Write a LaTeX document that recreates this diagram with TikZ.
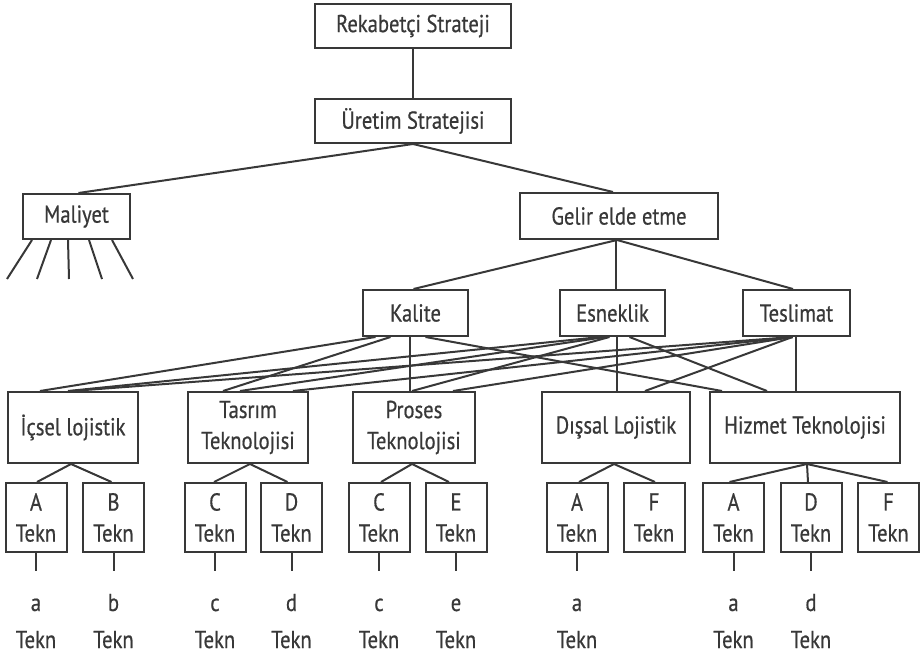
\documentclass[tikz,border=0pt]{standalone}
\usepackage{fontspec}
\setmainfont{PT Sans}[FakeStretch=0.84,FakeBold=0.6]
\usetikzlibrary{calc}
\definecolor{ink}{HTML}{383838}
\tikzset{
  box/.style={draw=ink, line width=2pt, inner sep=0pt, align=center,
    text=ink, font=\fontsize{24.5}{31}\selectfont},
  leaf/.style={box, minimum width=61, minimum height=69},
  mid/.style={box, minimum height=71},
  lbl/.style={inner sep=0pt, text=ink, font=\fontsize{24.5}{31}\selectfont},
  ln/.style={draw=ink, line width=2pt},
}
\begin{document}
\begin{tikzpicture}[x=1pt,y=-1pt]
\useasboundingbox (0,0) rectangle (921,655);
% level 0-2
\node[box, minimum width=196, minimum height=44] (rek) at (413,26) {Rekabetçi Strateji};
\node[box, minimum width=196, minimum height=44] (ure) at (413,121) {Üretim Stratejisi};
\node[box, minimum width=107, minimum height=45] (mal) at (76.5,216.5) {Maliyet};
\node[box, minimum width=198, minimum height=46] (gel) at (619,216) {Gelir elde etme};
% level 3
\node[box, minimum width=105, minimum height=46] (kal) at (415.5,313) {Kalite};
\node[box, minimum width=105, minimum height=46] (esn) at (612.5,313) {Esneklik};
\node[box, minimum width=107, minimum height=46] (tes) at (796.5,313) {Teslimat};
% level 4
\node[mid, minimum width=130] (ics) at (73,427.5) {İçsel lojistik};
\node[mid, minimum width=120] (tas) at (248,427.5) {Tasrım\\Teknolojisi};
\node[mid, minimum width=122] (pro) at (414,427.5) {Proses\\Teknolojisi};
\node[mid, minimum width=148] (dis) at (616,427.5) {Dışsal Lojistik};
\node[mid, minimum width=190] (hiz) at (805,427.5) {Hizmet Teknolojisi};
% leaves
\node[leaf] (a1) at (36,517.5) {A\\Tekn};
\node[leaf] (b1) at (113.5,517.5) {B\\Tekn};
\node[leaf] (c1) at (215,517.5) {C\\Tekn};
\node[leaf] (d1) at (291.5,517.5) {D\\Tekn};
\node[leaf] (c2) at (379,517.5) {C\\Tekn};
\node[leaf] (e1) at (456,517.5) {E\\Tekn};
\node[leaf] (a2) at (577,517.5) {A\\Tekn};
\node[leaf] (f1) at (654,517.5) {F\\Tekn};
\node[leaf] (a3) at (733.5,517.5) {A\\Tekn};
\node[leaf] (d2) at (811,517.5) {D\\Tekn};
\node[leaf] (f2) at (888.5,517.5) {F\\Tekn};
% bottom labels
\foreach \n/\t in {a1/a,b1/b,c1/c,d1/d,c2/c,e1/e,a2/a,a3/a,d2/d}{
  \coordinate (\n t) at ($(\n.south)+(0,18)$);
  \draw[ln] (\n.south) -- (\n t);
  \node[lbl, anchor=base] (\n l) at ($(\n.south)+(0,58)$) {\t};
  \node[lbl, anchor=base] (\n k) at ($(\n.south)+(0,95)$) {Tekn};
}
% top connectors
\draw[ln] (rek.south) -- (ure.north);
\draw[ln] (ure.south) -- ($(mal.north)+(2,0)$);
\draw[ln] (ure.south) -- ($(gel.north)+(-6,0)$);
\draw[ln] ($(gel.south)+(-2,0)$) -- ($(kal.north)+(-2,0)$);
\draw[ln] ($(gel.south)+(-3,0)$) -- ($(esn.north)+(3.5,0)$);
\draw[ln] ($(gel.south)+(-2,0)$) -- ($(tes.north)+(-3.5,0)$);
% Maliyet stubs
\coordinate (m1) at (7,279);
\coordinate (m2) at (37,279);
\coordinate (m3) at (69,279);
\coordinate (m4) at (102,279);
\coordinate (m5) at (133,279);
\draw[ln] ($(mal.south west)+(10,0)$) -- (m1);
\draw[ln] ($(mal.south west)+(29,0)$) -- (m2);
\draw[ln] ($(mal.south west)+(46,0)$) -- (m3);
\draw[ln] ($(mal.south west)+(67,0)$) -- (m4);
\draw[ln] ($(mal.south west)+(90,0)$) -- (m5);
% Kalite
\draw[ln] ($(kal.south)+(-40,0)$) -- ($(ics.north)+(-33,0)$);
\draw[ln] ($(kal.south)+(-25,0)$) -- ($(tas.north)+(-25,0)$);
\draw[ln] ($(kal.south)+(-5.5,0)$) -- ($(pro.north)+(-4,0)$);
\draw[ln] ($(kal.south)+(10,0)$) -- ($(hiz.north)+(-83,0)$);
% Esneklik
\draw[ln] ($(esn.south)+(-12,0)$) -- ($(ics.north)+(-5,0)$);
\draw[ln] ($(esn.south)+(-7,0)$) -- ($(tas.north)+(-8,0)$);
\draw[ln] ($(esn.south)+(-3,0)$) -- ($(pro.north)+(-2,0)$);
\draw[ln] ($(esn.south)+(4.5,0)$) -- ($(dis.north)+(1,0)$);
\draw[ln] ($(esn.south)+(17,0)$) -- ($(hiz.north)+(-38,0)$);
% Teslimat
\draw[ln] ($(tes.south)+(-4,0)$) -- ($(ics.north)+(-1,0)$);
\draw[ln] ($(tes.south)+(-4,0)$) -- ($(tas.north)+(45,0)$);
\draw[ln] ($(tes.south)+(-4,0)$) -- ($(pro.north)+(39,0)$);
\draw[ln] ($(tes.south)+(-4,0)$) -- ($(dis.north)+(29,0)$);
\draw[ln] ($(tes.south)+(-0.5,0)$) -- ($(hiz.north)+(-9,0)$);
% level 4 to leaves
\draw[ln] ($(a1.north)+(1,0)$) -- ($(ics.south)+(-2,0)$) -- ($(b1.north)+(-2,0)$);
\draw[ln] ($(c1.north)+(-1,0)$) -- ($(tas.south)+(2,0)$) -- ($(d1.north)+(-4,0)$);
\draw[ln] ($(c2.north)+(2,0)$) -- ($(pro.south)+(-2,0)$) -- ($(e1.north)+(-7,0)$);
\draw[ln] ($(a2.north)+(2,0)$) -- ($(dis.south)+(-2,0)$) -- ($(f1.north)+(1,0)$);
\draw[ln] ($(a3.north)+(-4,0)$) -- ($(hiz.south)+(2,0)$) -- ($(f2.north)+(-1,0)$);
\draw[ln] ($(hiz.south)+(2,0)$) -- ($(d2.north)+(-3,0)$);
\end{tikzpicture}
\end{document}
